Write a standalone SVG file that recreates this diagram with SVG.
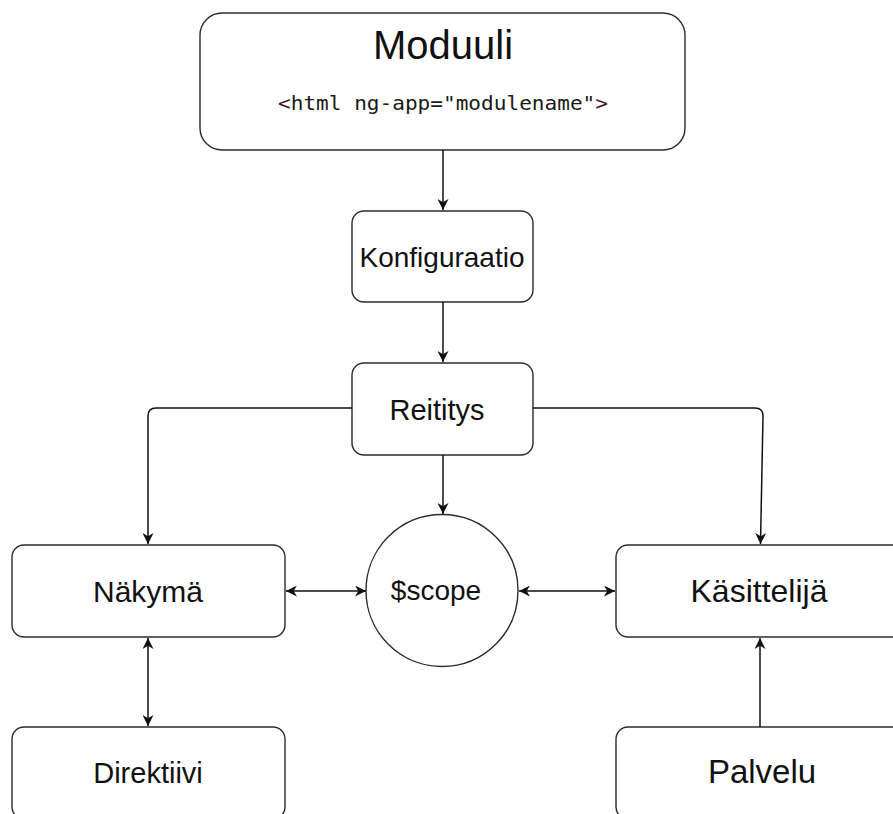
<svg xmlns="http://www.w3.org/2000/svg" width="893" height="814" viewBox="0 0 893 814">
<style>
.box{fill:#fff;stroke:#2b2b2b;stroke-width:1.4}
.lbl{font-family:"Liberation Sans",Arial,sans-serif;fill:#111;text-anchor:middle}
.code{font-family:"DejaVu Sans Mono","Liberation Mono",monospace;fill:#1a1a1a}
.edge{fill:none;stroke:#111;stroke-width:1.5}
</style>
<defs>
<marker id="ah" viewBox="0 0 10 10" refX="10" refY="5" markerWidth="11" markerHeight="11" markerUnits="userSpaceOnUse" orient="auto-start-reverse">
<path d="M0,0 L10,5 L0,10 L3,5 Z" fill="#111"/>
</marker>
</defs>
<rect width="893" height="814" fill="#fff"/>
<g id="moduuli">
<rect class="box" x="200" y="13" width="485" height="137" rx="22"/>
<text class="lbl" x="443" y="59" font-size="40">Moduuli</text>
<text class="code" x="278" y="110" font-size="19" textLength="330" lengthAdjust="spacingAndGlyphs"><tspan fill="#4a1630">&lt;</tspan>html ng-app="modulename"<tspan fill="#4a1630">&gt;</tspan></text>
</g>
<g id="konfiguraatio">
<rect class="box" x="352" y="211" width="181" height="91" rx="12"/>
<text class="lbl" x="442" y="267" font-size="28">Konfiguraatio</text>
</g>
<g id="reititys">
<rect class="box" x="352" y="363" width="181" height="92" rx="12"/>
<text class="lbl" x="437" y="420" font-size="29">Reititys</text>
</g>
<g id="nakyma">
<rect class="box" x="12" y="545" width="273" height="92" rx="12"/>
<text class="lbl" x="148" y="602" font-size="30">Näkymä</text>
</g>
<g id="scope">
<circle class="box" cx="442" cy="590.5" r="76"/>
<text class="lbl" x="436" y="600" font-size="28">$scope</text>
</g>
<g id="kasittelija">
<rect class="box" x="616" y="545" width="290" height="92" rx="12"/>
<text class="lbl" x="759" y="602" font-size="32">Käsittelijä</text>
</g>
<g id="direktiivi">
<rect class="box" x="12" y="727" width="273" height="92" rx="12"/>
<text class="lbl" x="148" y="783" font-size="29">Direktiivi</text>
</g>
<g id="palvelu">
<rect class="box" x="616" y="727" width="290" height="92" rx="12"/>
<text class="lbl" x="762" y="783" font-size="33">Palvelu</text>
</g>
<g id="connectors">
<path class="edge" d="M443,150 L443,210" marker-end="url(#ah)"/>
<path class="edge" d="M443,302 L443,362" marker-end="url(#ah)"/>
<path class="edge" d="M352,408 L156,408 Q148,408 148,416 L148,544" marker-end="url(#ah)"/>
<path class="edge" d="M533,408 L755,408 Q763,408 763,416 L760.5,544" marker-end="url(#ah)"/>
<path class="edge" d="M443,455 L443,514" marker-end="url(#ah)"/>
<path class="edge" d="M286,591 L366,591" marker-start="url(#ah)" marker-end="url(#ah)"/>
<path class="edge" d="M519,591 L615,591" marker-start="url(#ah)" marker-end="url(#ah)"/>
<path class="edge" d="M148,638 L148,726" marker-start="url(#ah)" marker-end="url(#ah)"/>
<path class="edge" d="M760,727 L760,638" marker-end="url(#ah)"/>
</g>
</svg>
